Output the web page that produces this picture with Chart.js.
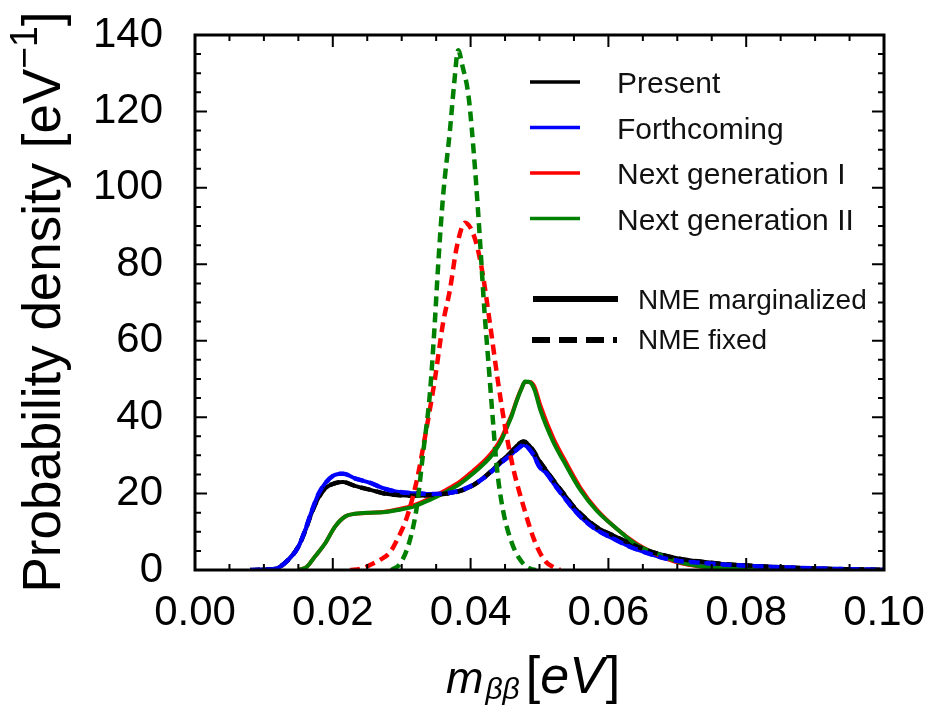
<!DOCTYPE html>
<html lang="en">
<head>
<meta charset="UTF-8">
<title>m_bb probability density</title>
<script src="https://cdn.jsdelivr.net/npm/chart.js"></script>
<style>
  html,body{margin:0;padding:0;background:#fff}
  #wrap{width:932px;height:705px}
</style>
</head>
<body>
<div id="wrap"><canvas id="chart" width="932" height="705"></canvas></div>
<script>
// m_bb grid [eV] shared by the Present / Forthcoming curves
const nowX = [0.0080,0.0100,0.0116,0.0135,0.0150,0.0160,0.0169,0.0179,0.0189,0.0203,
              0.0215,0.0232,0.0256,0.0273,0.0293,0.0317,0.0340,0.0365,0.0385,0.0404,
              0.0420,0.0433,0.0445,0.0457,0.0467,0.0477,0.0490,0.0500,0.0510,0.0523,
              0.0535,0.0550,0.0565,0.0583,0.0605,0.0631,0.0655,0.0680,0.0705,0.0733,
              0.0770,0.0800,0.0850,0.0900,0.0950,0.1000];
const presentY = [0,0.1,0.3,2.6,6.1,10.3,14.8,18.8,21.4,22.7,
                  23.0,22.0,20.9,20.1,19.6,19.4,19.6,20.0,20.7,22.2,
                  24.3,26.4,28.6,30.5,32.5,33.6,31.5,28.5,26.0,22.8,
                  20.0,16.5,13.8,11.2,9.2,7.0,5.2,3.9,2.9,2.2,
                  1.5,1.2,0.7,0.4,0.2,0.05];
const forthcomingY = [0,0.1,0.3,2.6,6.1,10.5,15.2,19.8,22.7,24.9,
                      25.2,24.0,22.7,21.4,20.5,20.1,19.9,20.1,20.8,22.3,
                      24.2,26.2,28.2,29.9,31.5,32.7,30.5,27.0,25.3,22.0,
                      19.2,15.8,13.0,10.5,8.4,6.1,4.5,3.1,2.3,1.9,
                      1.4,1.1,0.7,0.4,0.2,0.05];
// with fixed NME these two sit on top of the marginalized ones
const presentFixedY = presentY;
const forthcomingFixedY = forthcomingY;

// next generation, NME marginalized
const nextX = [0.0150,0.0162,0.0174,0.0189,0.0203,0.0218,0.0232,0.0255,0.0273,0.0295,
               0.0317,0.0340,0.0365,0.0385,0.0404,0.0420,0.0433,0.0445,0.0452,0.0460,
               0.0467,0.0474,0.0479,0.0487,0.0493,0.0501,0.0520,0.0535,0.0559,0.0583,
               0.0612,0.0641,0.0680,0.0704,0.0733,0.0770,0.0820,0.0880];
const nextIY = [0,0.8,3.5,7.0,11.3,14.0,14.7,15.0,15.2,15.9,
                16.9,18.7,21.0,23.2,26.0,28.6,31.2,34.6,37.5,40.8,
                44.5,47.6,49.2,49.2,47.8,43.2,34.5,29.3,21.6,15.8,
                10.8,6.9,3.3,1.8,0.9,0.3,0.1,0];
const nextIIY = [0,0.8,3.5,7.0,11.3,14.0,14.7,15.0,15.1,15.7,
                 16.6,18.3,20.5,22.6,25.3,27.9,30.5,34.0,37.0,40.5,
                 44.3,47.5,49.3,49.0,47.0,42.0,33.5,28.5,21.0,15.5,
                 10.8,6.6,3.6,2.0,1.0,0.4,0.1,0];

// next generation, NME fixed
const nextIFixedX = [0.0225,0.0240,0.0254,0.0268,0.0283,0.0295,0.0307,0.0322,0.0334,0.0348,
                     0.0360,0.0370,0.0380,0.0392,0.0400,0.0409,0.0418,0.0428,0.0440,0.0450,
                     0.0462,0.0477,0.0491,0.0501,0.0510,0.0520,0.0530];
const nextIFixedY = [0,0.3,1.3,2.6,4.6,8.5,13.5,23.5,35.0,49.7,
                     64.6,73.3,84.6,90.9,89.5,85.0,77.0,64.6,49.0,37.5,
                     26.5,16.5,8.5,4.4,2.0,0.8,0];
const nextIIFixedX = [0.0285,0.0298,0.0312,0.0322,0.0331,0.0341,0.0348,0.0353,0.0360,0.0370,
                      0.0376,0.0382,0.0388,0.0397,0.0406,0.0413,0.0420,0.0426,0.0432,0.0438,
                      0.0447,0.0460,0.0474,0.0487,0.0495];
const nextIIFixedY = [0,1.7,7.9,16.6,30.5,46.3,64.6,80.0,97.7,115.0,
                      127.0,136.0,132.0,124.0,106.0,88.0,68.0,54.0,40.0,27.0,
                      15.7,7.0,2.2,0.3,0];

const legendNames = ['Present', 'Forthcoming', 'Next generation I', 'Next generation II'];
const styleNames = ['NME marginalized', 'NME fixed'];
const colors = ['#000000', '#0000ff', '#ff0000', '#008000'];

const xRange = [0, 0.1], xStep = 0.02, xMinor = 0.005;
const yRange = [0, 140], yStep = 20, yMinor = 5;

const FONT = '"Liberation Sans", Arial, sans-serif';

const toPts = (xs, ys) => xs.map((x, i) => ({x, y: ys[i]}));
// lower "order" is drawn later, i.e. on top
const curve = (label, xs, ys, color, dashed, order) => ({
  label, data: toPts(xs, ys), borderColor: color,
  borderWidth: dashed ? 4.5 : 4, borderDash: dashed ? [10, 6] : [],
  pointRadius: 0, fill: false, cubicInterpolationMode: 'monotone', order
});

const datasets = [
  curve('Present', nowX, presentY, colors[0], false, 8),
  curve('Forthcoming', nowX, forthcomingY, colors[1], false, 7),
  curve('Next generation I', nextX, nextIY, colors[2], false, 6),
  curve('Next generation II', nextX, nextIIY, colors[3], false, 5),
  curve('Present fixed', nowX, presentFixedY, colors[0], true, 4),
  curve('Forthcoming fixed', nowX, forthcomingFixedY, colors[1], true, 3),
  curve('Next generation I fixed', nextIFixedX, nextIFixedY, colors[2], true, 2),
  curve('Next generation II fixed', nextIIFixedX, nextIIFixedY, colors[3], true, 1)
];

// box frame, inward ticks on all four sides, axis titles and the legend
const decor = {
  id: 'decor',
  afterDatasetsDraw(chart) {
    const {ctx, chartArea: a, scales: {x, y}} = chart;
    ctx.save();
    ctx.strokeStyle = '#000';
    ctx.lineWidth = 2;
    ctx.beginPath();
    const nx = Math.round((xRange[1] - xRange[0]) / xMinor);
    for (let i = 0; i <= nx; i++) {
      const v = xRange[0] + i * xMinor;
      const px = x.getPixelForValue(v);
      const len = Math.abs(v / xStep - Math.round(v / xStep)) < 1e-6 ? 12 : 6;
      ctx.moveTo(px, a.bottom); ctx.lineTo(px, a.bottom - len);
      ctx.moveTo(px, a.top); ctx.lineTo(px, a.top + len);
    }
    const ny = Math.round((yRange[1] - yRange[0]) / yMinor);
    for (let i = 0; i <= ny; i++) {
      const v = yRange[0] + i * yMinor;
      const py = y.getPixelForValue(v);
      const len = v % yStep === 0 ? 12 : 6;
      ctx.moveTo(a.left, py); ctx.lineTo(a.left + len, py);
      ctx.moveTo(a.right, py); ctx.lineTo(a.right - len, py);
    }
    ctx.stroke();
    ctx.lineWidth = 3;
    ctx.strokeRect(a.left, a.top, a.right - a.left, a.bottom - a.top);
    ctx.restore();
  },
  afterDraw(chart) {
    const {ctx, chartArea: a} = chart;
    ctx.save();
    ctx.fillStyle = '#000';
    ctx.textAlign = 'left';
    ctx.textBaseline = 'alphabetic';

    // y title: Probability density [eV^-1]
    const mainF = '54px ' + FONT, supF = '38px ' + FONT;
    ctx.font = mainF;
    const w1 = ctx.measureText('Probability density [eV').width;
    const w3 = ctx.measureText(']').width;
    ctx.font = supF;
    const w2 = ctx.measureText('\u22121').width;
    const total = w1 + w2 + w3;
    ctx.save();
    ctx.translate(60, 302);
    ctx.rotate(-Math.PI / 2);
    ctx.scale(581 / total, 1);
    let cx = -total / 2;
    ctx.font = mainF; ctx.fillText('Probability density [eV', cx, 0); cx += w1;
    ctx.font = supF; ctx.fillText('\u22121', cx, -23); cx += w2;
    ctx.font = mainF; ctx.fillText(']', cx, 0);
    ctx.restore();

    // x title: m_bb [eV]
    let tx = 446;
    const base = 693;
    ctx.font = 'italic 45px ' + FONT;
    ctx.fillText('m', tx, base); tx += ctx.measureText('m').width + 2;
    ctx.font = 'italic 30px ' + FONT;
    ctx.fillText('\u03b2\u03b2', tx, base + 6); tx += ctx.measureText('\u03b2\u03b2').width + 6;
    ctx.font = '52px ' + FONT;
    ctx.fillText('[', tx, base); tx += ctx.measureText('[').width;
    ctx.font = 'italic 52px ' + FONT;
    ctx.fillText('eV', tx, base); tx += ctx.measureText('eV').width + 2;
    ctx.font = '52px ' + FONT;
    ctx.fillText(']', tx, base);

    // legend: colours
    const lx = a.left + 335, ly = a.top + 47, gap = 45.5;
    ctx.lineWidth = 3.5;
    ctx.setLineDash([]);
    ctx.font = '30px ' + FONT;
    legendNames.forEach((name, i) => {
      const yy = ly + i * gap;
      ctx.strokeStyle = colors[i];
      ctx.beginPath(); ctx.moveTo(lx, yy); ctx.lineTo(lx + 50, yy); ctx.stroke();
      ctx.fillStyle = '#111';
      ctx.fillText(name, lx + 87, yy + 11);
    });

    // legend: line styles
    ctx.strokeStyle = '#000';
    ctx.lineWidth = 6;
    ctx.font = '28px ' + FONT;
    const sy = a.top + 264;
    ctx.beginPath(); ctx.moveTo(lx + 3, sy); ctx.lineTo(lx + 88, sy); ctx.stroke();
    ctx.fillText(styleNames[0], lx + 108, sy + 10);
    ctx.setLineDash([18, 9]);
    ctx.beginPath(); ctx.moveTo(lx + 2, sy + 41); ctx.lineTo(lx + 87, sy + 41); ctx.stroke();
    ctx.setLineDash([]);
    ctx.fillText(styleNames[1], lx + 108, sy + 50);
    ctx.restore();
  }
};

new Chart(document.getElementById('chart'), {
  type: 'line',
  data: {datasets},
  options: {
    responsive: false,
    animation: false,
    layout: {padding: {top: 35, right: 48, left: 0, bottom: 0}},
    plugins: {legend: {display: false}, tooltip: {enabled: false}},
    scales: {
      x: {
        type: 'linear', min: xRange[0], max: xRange[1],
        grid: {display: false}, border: {display: false},
        ticks: {stepSize: xStep, padding: 10, color: '#000',
                font: {family: FONT, size: 42},
                callback: v => v.toFixed(2)},
        // fixed band below the plot; label overhang is covered by layout padding
        afterFit: s => { s.height = 135; s.paddingLeft = 0; s.paddingRight = 0; }
      },
      y: {
        min: yRange[0], max: yRange[1],
        grid: {display: false}, border: {display: false},
        ticks: {stepSize: yStep, padding: 24, color: '#000',
                font: {family: FONT, size: 42}},
        afterFit: s => { s.width = 195; s.paddingTop = 0; s.paddingBottom = 0; }
      }
    }
  },
  plugins: [decor]
});
</script>
</body>
</html>
